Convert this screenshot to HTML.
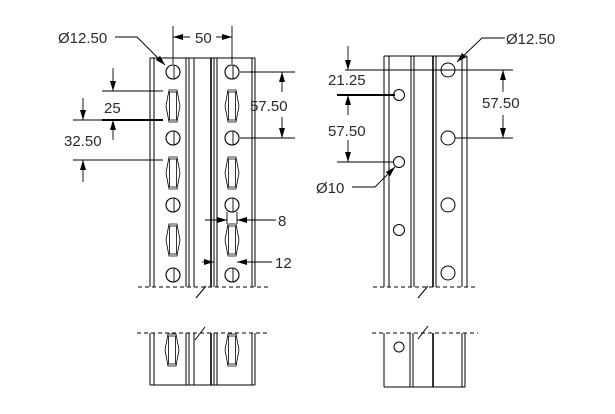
<!DOCTYPE html>
<html><head><meta charset="utf-8"><style>
html,body{margin:0;padding:0;background:#fff;width:615px;height:414px;overflow:hidden}
svg{display:block}
text{font-family:"Liberation Sans",sans-serif;font-size:15px;fill:#2a2a2a}
</style></head><body>
<svg width="615" height="414" viewBox="0 0 615 414" xmlns="http://www.w3.org/2000/svg">
<defs>
<g id="slot"><polygon points="-7,0 -4,-16 4,-16 7,0 4,16 -4,16" fill="none" stroke="#000" stroke-width="0.8"/><rect x="-3.5" y="-14" width="7" height="28" fill="none" stroke="#000" stroke-width="0.8"/></g>
<g id="hole"><circle r="7" fill="none" stroke="#000" stroke-width="1.1"/><line x1="1" y1="-7" x2="1" y2="7" stroke="#000" stroke-width="0.9"/></g>
<marker id="a" viewBox="0 0 10 6" refX="10" refY="3" markerWidth="10" markerHeight="6" orient="auto-start-reverse" markerUnits="userSpaceOnUse"><path d="M0,0 L10,3 L0,6 z" fill="#000"/></marker>
</defs>
<g stroke="#000" stroke-width="1" fill="none">
<line x1="150" y1="58" x2="255" y2="58"/>
<line x1="150" y1="58" x2="150" y2="287"/><line x1="154" y1="58" x2="154" y2="287"/>
<line x1="186" y1="58" x2="186" y2="287"/><line x1="189" y1="58" x2="189" y2="287"/><line x1="194" y1="58" x2="194" y2="287"/>
<line x1="211" y1="58" x2="211" y2="287" stroke-width="1.6"/><line x1="214" y1="58" x2="214" y2="287"/><line x1="217" y1="58" x2="217" y2="287"/>
<line x1="252" y1="58" x2="252" y2="287"/><line x1="255" y1="58" x2="255" y2="287"/>
<line x1="138" y1="287" x2="268" y2="287" stroke-dasharray="4,3"/>
<line x1="196" y1="298" x2="206" y2="286"/>
<line x1="137" y1="333" x2="267" y2="333" stroke-dasharray="4,3"/>
<line x1="150" y1="385" x2="255" y2="385"/>
<line x1="150" y1="333" x2="150" y2="385"/><line x1="154" y1="333" x2="154" y2="385"/>
<line x1="186" y1="333" x2="186" y2="385"/><line x1="189" y1="333" x2="189" y2="385"/><line x1="194" y1="333" x2="194" y2="385"/>
<line x1="211" y1="333" x2="211" y2="385" stroke-width="1.6"/><line x1="214" y1="333" x2="214" y2="385"/><line x1="217" y1="333" x2="217" y2="385"/>
<line x1="252" y1="333" x2="252" y2="385"/><line x1="255" y1="333" x2="255" y2="385"/>
<line x1="195" y1="340" x2="205" y2="327"/>
<line x1="384" y1="56" x2="467" y2="56"/>
<line x1="384" y1="56" x2="384" y2="287"/><line x1="389" y1="56" x2="389" y2="287"/>
<line x1="411" y1="56" x2="411" y2="287"/><line x1="414" y1="56" x2="414" y2="287"/>
<line x1="433" y1="56" x2="433" y2="287" stroke-width="1.6"/><line x1="436" y1="56" x2="436" y2="287"/>
<line x1="462" y1="56" x2="462" y2="287"/><line x1="467" y1="56" x2="467" y2="287"/>
<line x1="373" y1="287" x2="476" y2="287" stroke-dasharray="4,3"/>
<line x1="418" y1="298" x2="428" y2="286"/>
<line x1="372" y1="333" x2="478" y2="333" stroke-dasharray="4,3"/>
<line x1="384" y1="387" x2="465" y2="387"/>
<line x1="384" y1="333" x2="384" y2="387"/>
<line x1="410" y1="333" x2="410" y2="387"/><line x1="413" y1="333" x2="413" y2="387"/>
<line x1="433" y1="333" x2="433" y2="387" stroke-width="1.6"/>
<line x1="462" y1="333" x2="462" y2="387"/><line x1="465" y1="333" x2="465" y2="387"/>
<line x1="418" y1="339" x2="428" y2="326"/>
<circle cx="399" cy="347" r="5"/>
<circle cx="399" cy="95" r="5.5"/><circle cx="399" cy="162" r="5.5"/><circle cx="399" cy="230" r="5.5"/>
<circle cx="448" cy="70" r="7"/><circle cx="448" cy="138" r="7"/><circle cx="448" cy="205" r="7"/><circle cx="448" cy="273" r="7"/>
</g>
<use href="#hole" x="173" y="72"/><use href="#hole" x="173" y="138"/><use href="#hole" x="173" y="205"/><use href="#hole" x="173" y="275"/>
<use href="#hole" x="232" y="72"/><use href="#hole" x="232" y="138"/><use href="#hole" x="232" y="205"/><use href="#hole" x="232" y="275"/>
<use href="#slot" x="173" y="106"/><use href="#slot" x="173" y="173"/><use href="#slot" x="173" y="240"/>
<use href="#slot" x="232" y="106"/><use href="#slot" x="232" y="173"/><use href="#slot" x="232" y="240"/>
<use href="#slot" x="172" y="350"/><use href="#slot" x="232" y="350"/>
<g stroke="#000" stroke-width="0.9" fill="none">
<line x1="173" y1="26" x2="173" y2="64"/><line x1="232" y1="26" x2="232" y2="64"/>
<line x1="190" y1="37" x2="173" y2="37" marker-end="url(#a)"/><line x1="216" y1="37" x2="232" y2="37" marker-end="url(#a)"/>
<polyline points="115,37 137,37 165,65" marker-end="url(#a)"/>
<line x1="240" y1="72" x2="295" y2="72"/><line x1="240" y1="138" x2="295" y2="138"/>
<line x1="282" y1="92" x2="282" y2="72" marker-end="url(#a)"/><line x1="282" y1="117" x2="282" y2="138" marker-end="url(#a)"/>
<line x1="102" y1="91" x2="163" y2="91"/><line x1="73" y1="120" x2="102" y2="120"/><line x1="102" y1="120" x2="163" y2="120" stroke-width="2"/>
<line x1="73" y1="160" x2="163" y2="160"/>
<line x1="113" y1="68" x2="113" y2="91" marker-end="url(#a)"/><line x1="113" y1="140" x2="113" y2="120" marker-end="url(#a)"/>
<line x1="83" y1="98" x2="83" y2="120" marker-end="url(#a)"/><line x1="83" y1="182" x2="83" y2="160" marker-end="url(#a)"/>
<line x1="227" y1="212" x2="227" y2="224"/><line x1="237" y1="212" x2="237" y2="224"/>
<line x1="205" y1="220" x2="227" y2="220" marker-end="url(#a)"/><line x1="276" y1="220" x2="237" y2="220" marker-end="url(#a)"/>
<line x1="202" y1="262" x2="214" y2="262" marker-end="url(#a)"/><line x1="272" y1="262" x2="237" y2="262" marker-end="url(#a)"/>
<line x1="345" y1="70" x2="513" y2="70"/><line x1="455" y1="138" x2="513" y2="138"/>
<line x1="337" y1="95" x2="395" y2="95" stroke-width="2"/><line x1="337" y1="162" x2="394" y2="162"/>
<line x1="348" y1="46" x2="348" y2="70" marker-end="url(#a)"/><line x1="348" y1="115" x2="348" y2="95" marker-end="url(#a)"/>
<line x1="348" y1="140" x2="348" y2="162" marker-end="url(#a)"/>
<line x1="503" y1="92" x2="503" y2="70" marker-end="url(#a)"/><line x1="503" y1="115" x2="503" y2="138" marker-end="url(#a)"/>
<polyline points="352,187 375,187 395,167" marker-end="url(#a)"/>
<polyline points="505,38 482,38 457,62" marker-end="url(#a)"/>
</g>
<text x="58" y="43">Ø12.50</text>
<text x="195" y="43">50</text>
<text x="250" y="111">57.50</text>
<text x="104" y="113">25</text>
<text x="64" y="146">32.50</text>
<text x="278" y="226">8</text>
<text x="275" y="268">12</text>
<text x="506" y="44">Ø12.50</text>
<text x="328" y="85">21.25</text>
<text x="328" y="136">57.50</text>
<text x="316" y="193">Ø10</text>
<text x="482" y="108">57.50</text>
</svg>
</body></html>
